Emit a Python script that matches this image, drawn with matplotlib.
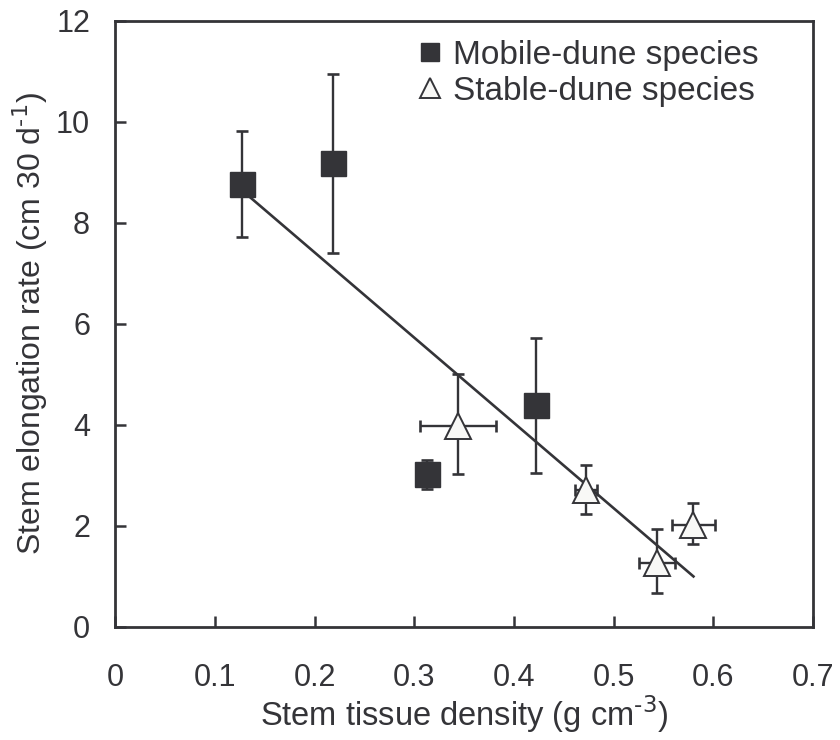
import numpy as np
import matplotlib
matplotlib.use("Agg")
import matplotlib.pyplot as plt

plt.rcParams["font.family"] = ["Liberation Sans", "DejaVu Sans"]
plt.rcParams["axes.unicode_minus"] = False

# mobile-dune species
mob_x = [0.127, 0.219, 0.313, 0.422]
mob_y = [8.77, 9.19, 3.02, 4.39]
mob_lo = [7.71, 7.41, 2.73, 3.05]
mob_hi = [9.82, 10.95, 3.30, 5.71]

# stable-dune species
stb_x = [0.344, 0.472, 0.543, 0.580]
stb_y = [3.97, 2.71, 1.26, 2.02]
stb_lo = [3.03, 2.23, 0.66, 1.63]
stb_hi = [5.01, 3.20, 1.94, 2.46]
stb_xerr = [0.038, 0.011, 0.018, 0.022]

xticks = [0, 0.1, 0.2, 0.3, 0.4, 0.5, 0.6, 0.7]
xticklabels = ["0", "0.1", "0.2", "0.3", "0.4", "0.5", "0.6", "0.7"]
yticks = [0, 2, 4, 6, 8, 10, 12]

dark = "#343438"


def main():
    fig = plt.figure(figsize=(8.4, 7.4), dpi=100)
    ax = fig.add_axes([0.137, 0.153, 0.831, 0.819])

    # regression over all species
    all_x = np.array(mob_x + stb_x)
    all_y = np.array(mob_y + stb_y)
    k, b = np.polyfit(all_x, all_y, 1)
    xx = np.array([all_x.min(), all_x.max()])
    ax.plot(xx, k * xx + b, color=dark, lw=1.9, zorder=2)

    my = np.array(mob_y)
    ax.errorbar(mob_x, mob_y,
                yerr=[my - np.array(mob_lo), np.array(mob_hi) - my],
                fmt="none", ecolor=dark, elinewidth=1.7, capsize=4.5,
                capthick=1.9, zorder=3)
    sy = np.array(stb_y)
    ax.errorbar(stb_x, stb_y, xerr=stb_xerr,
                yerr=[sy - np.array(stb_lo), np.array(stb_hi) - sy],
                fmt="none", ecolor=dark, elinewidth=1.7, capsize=4.5,
                capthick=1.9, zorder=3)

    ax.plot(mob_x, mob_y, "s", ms=18, color=dark, mec=dark,
            ls="none", zorder=4, label="Mobile-dune species")
    ax.plot(stb_x, stb_y, "^", ms=19, mfc="#f8f8f6", mec=dark, mew=1.4,
            ls="none", zorder=4, label="Stable-dune species")

    ax.set_xlim(0, 0.7)
    ax.set_ylim(0, 12)
    ax.set_xticks(xticks)
    ax.set_xticklabels(xticklabels)
    ax.set_yticks(yticks)
    ax.tick_params(direction="in", length=8, width=1.8, color=dark,
                   labelsize=22, labelcolor=dark)
    ax.tick_params(axis="x", pad=26)
    ax.tick_params(axis="y", pad=18)
    for s in ax.spines.values():
        s.set_linewidth(2.0)
        s.set_color(dark)

    ax.set_xlabel(r"Stem tissue density (g cm$^{\text{-3}}$)", fontsize=23.5,
                  color=dark, labelpad=0)
    ax.set_ylabel(r"Stem elongation rate (cm 30 d$^{\text{-1}}$)", fontsize=23,
                  color=dark, labelpad=4)

    leg = ax.legend(loc="upper right", bbox_to_anchor=(0.941, 0.99),
                    frameon=False, fontsize=24,
                    handlelength=0.8, handletextpad=0.3, labelspacing=0.15,
                    borderaxespad=0.0, markerscale=0.75)
    for t in leg.get_texts():
        t.set_color(dark)

    fig.savefig("out.png", dpi=100)


if __name__ == "__main__":
    main()
